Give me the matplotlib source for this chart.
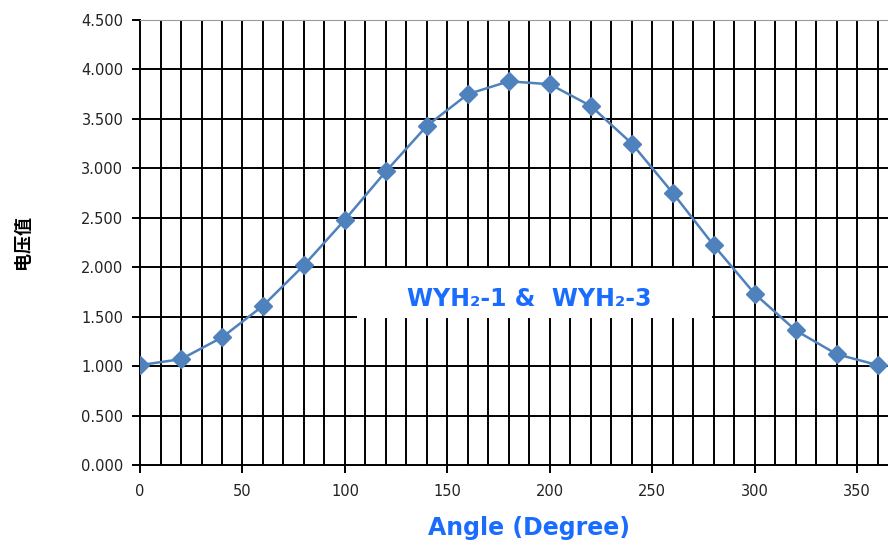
import numpy as np
import matplotlib.pyplot as plt
from matplotlib.patches import Rectangle

plt.rcParams['font.family'] = ['DejaVu Sans']

# data
angle = [0, 20, 40, 60, 80, 100, 120, 140, 160, 180,
         200, 220, 240, 260, 280, 300, 320, 340, 360]
voltage = [1.01, 1.07, 1.29, 1.61, 2.02, 2.48, 2.97, 3.43, 3.75, 3.88,
           3.85, 3.63, 3.25, 2.75, 2.22, 1.73, 1.36, 1.12, 1.01]
x_ticks = [0, 50, 100, 150, 200, 250, 300, 350]
y_ticks = [0.0, 0.5, 1.0, 1.5, 2.0, 2.5, 3.0, 3.5, 4.0, 4.5]

fig = plt.figure(figsize=(8.88, 5.46), dpi=100)
ax = fig.add_axes([0.1577, 0.1484, 0.8423, 0.815])

# grid: every 10 degrees vertically, every 0.5 horizontally
for gx in range(10, 370, 10):
    ax.axvline(gx, color='black', lw=1.4, zorder=1)
for gy in y_ticks[1:-1]:
    ax.axhline(gy, color='black', lw=1.4, zorder=1)

ax.plot(angle, voltage, color='#4f81bd', lw=1.8, marker='D', markersize=9,
        markerfacecolor='#4f81bd', markeredgecolor='#4f81bd', zorder=4)

ax.set_xlim(0, 365)
ax.set_ylim(0, 4.5)
ax.set_xticks(x_ticks)
ax.set_yticks(y_ticks)
ax.set_yticklabels(['%.3f' % v for v in y_ticks])
ax.tick_params(axis='both', direction='out', length=6, width=1.4,
               labelsize=10.5, colors='black', labelcolor='#222222')
ax.tick_params(axis='x', pad=8)
ax.tick_params(axis='y', pad=6)

ax.spines['right'].set_visible(False)
ax.spines['top'].set_color('#9a9a9a')
ax.spines['left'].set_linewidth(1.4)
ax.spines['bottom'].set_linewidth(1.4)

# white label box in the middle
ax.add_patch(Rectangle((106, 1.49), 173, 0.5, facecolor='white',
                       edgecolor='none', zorder=3))
ax.text(190, 1.68, 'WYH\u2082-1 &  WYH\u2082-3', color='#1a6cff', fontsize=17,
        fontweight='bold', ha='center', va='center', zorder=5)

ax.set_ylabel('电压值', family=['Noto Sans CJK SC', 'DejaVu Sans'],
              fontsize=13, fontweight='bold')
ax.yaxis.set_label_coords(-0.145, 0.5)
ax.set_xlabel('Angle (Degree)', color='#1a6cff', fontsize=17,
              fontweight='bold')
ax.xaxis.set_label_coords(0.52, -0.115)

fig.savefig('out.png', dpi=100)
